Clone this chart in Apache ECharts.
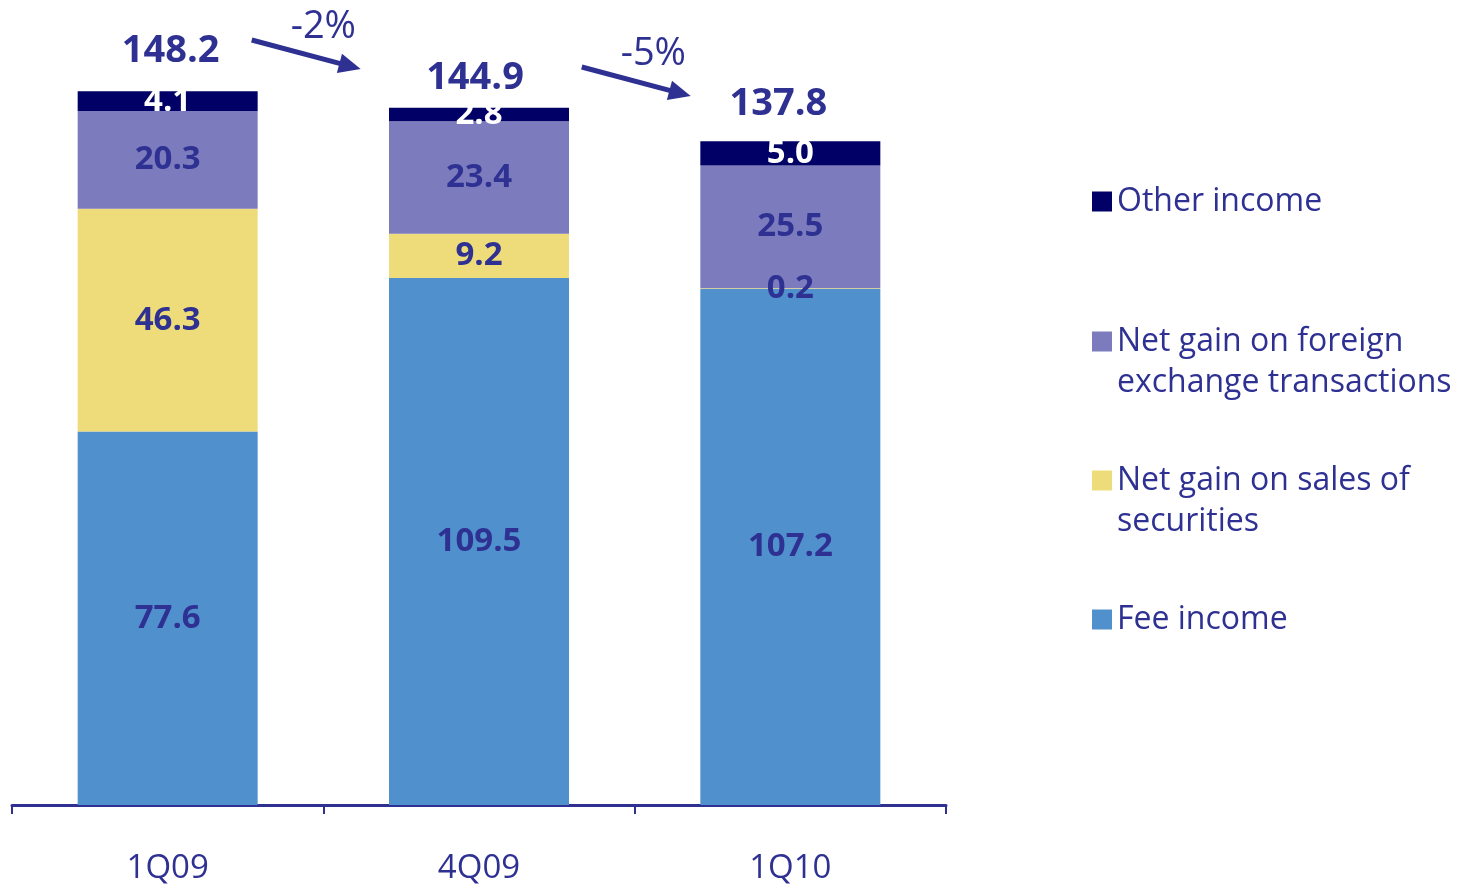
<!DOCTYPE html>
<html><head><meta charset="utf-8">
<script src="https://cdn.jsdelivr.net/npm/echarts@6/dist/echarts.min.js"></script>
<style>html,body{margin:0;padding:0;background:#fff}#c{width:1472px;height:886px}</style>
</head><body><div id="c"></div>
<script>
const categories = ['1Q09', '4Q09', '1Q10'];
const feeIncome = [77.6, 109.5, 107.2];
const securitiesGain = [46.3, 9.2, 0.2];
const fxGain = [20.3, 23.4, 25.5];
const otherIncome = [4.1, 2.8, 5.0];
const totals = [148.2, 144.9, 137.8];
const changes = ['-2%', '-5%'];
const seriesNames = ['Fee income', 'Net gain on sales of securities', 'Net gain on foreign exchange transactions', 'Other income'];

// layout only (pixel offsets of the total labels)
const totalLabelOffsets = [[3, -6], [-4, 6], [-12, -3]];

const TXT = '#2E3192';
const FONT = '"Open Sans", "Noto Sans", sans-serif';
const colors = ['#5090CD', '#EEDC7A', '#7B7BBD', '#000066'];

const chart = echarts.init(document.getElementById('c'));

function barSeries(i, data, labelColor) {
  return {
    name: seriesNames[i], type: 'bar', stack: 'total', data: data,
    barWidth: 180,
    itemStyle: { color: colors[i] },
    label: { show: true, position: 'inside', color: labelColor, fontFamily: FONT,
      fontWeight: 'bold', fontSize: 33, formatter: p => p.value.toFixed(1) },
    emphasis: { disabled: true }
  };
}

function legendFor(name, top) {
  return {
    data: [name], left: 1092, top: top, orient: 'vertical', padding: 0,
    itemWidth: 20, itemHeight: 20, itemGap: 0, icon: 'rect',
    selectedMode: false,
    formatter: n => n === seriesNames[2] ? '\nNet gain on foreign\nexchange transactions'
                 : n === seriesNames[1] ? '\nNet gain on sales of\nsecurities' : n,
    textStyle: { color: TXT, fontFamily: FONT, fontSize: 32, lineHeight: 41 }
  };
}

const option = {
  animation: false,
  grid: { left: 12, right: 526, top: 35, bottom: 81, containLabel: false },
  xAxis: {
    type: 'category', data: categories,
    axisLine: { lineStyle: { color: TXT, width: 3 } },
    axisTick: { show: true, length: 9, lineStyle: { color: TXT, width: 2 }, alignWithLabel: false },
    axisLabel: { color: TXT, fontFamily: FONT, fontSize: 33, margin: 47 }
  },
  yAxis: { type: 'value', min: 0, max: 160, show: false, splitLine: { show: false } },
  legend: [
    legendFor(seriesNames[3], 181),
    legendFor(seriesNames[2], 280),
    legendFor(seriesNames[1], 419),
    legendFor(seriesNames[0], 599)
  ],
  series: [
    barSeries(0, feeIncome, TXT),
    barSeries(1, securitiesGain, TXT),
    barSeries(2, fxGain, TXT),
    barSeries(3, otherIncome, '#FFFFFF'),
    {
      name: 'Total', type: 'line', symbol: 'circle', symbolSize: 0, showSymbol: true, silent: true,
      itemStyle: { color: 'rgba(0,0,0,0)' },
      lineStyle: { width: 0, color: 'rgba(0,0,0,0)' },
      data: totals.map((v, i) => ({ value: v, label: { offset: totalLabelOffsets[i] } })),
      label: { show: true, position: 'top', distance: 16, color: TXT, fontFamily: FONT,
        fontWeight: 'bold', fontSize: 38, formatter: p => p.value.toFixed(1) },
      z: 10
    }
  ]
};
chart.setOption(option);

// change arrows between periods (annotation)
function arrow(x1, y1, x2, y2) {
  const dx = x2 - x1, dy = y2 - y1, L = Math.hypot(dx, dy), ux = dx / L, uy = dy / L;
  const hl = 22, hw = 10;
  const bx = x2 - ux * hl, by = y2 - uy * hl;
  return [
    { type: 'line', shape: { x1: x1, y1: y1, x2: bx + ux * 2, y2: by + uy * 2 }, style: { stroke: TXT, lineWidth: 5 } },
    { type: 'polygon', shape: { points: [[x2, y2], [bx - uy * hw, by + ux * hw], [bx + uy * hw, by - ux * hw]] }, style: { fill: TXT } }
  ];
}
const c0 = chart.convertToPixel({ xAxisIndex: 0 }, 0);
const c1 = chart.convertToPixel({ xAxisIndex: 0 }, 1);
const band = c1 - c0;
const graphics = [];
graphics.push(...arrow(c0 + 0.27 * band, 40, c0 + 0.62 * band, 69));
graphics.push(...arrow(c1 + 0.33 * band, 67, c1 + 0.68 * band, 96));
graphics.push({ type: 'text', style: { text: changes[0], x: c0 + 0.50 * band, y: 27, align: 'center', verticalAlign: 'middle', fill: TXT, font: '38px ' + FONT } });
graphics.push({ type: 'text', style: { text: changes[1], x: c1 + 0.56 * band, y: 54, align: 'center', verticalAlign: 'middle', fill: TXT, font: '38px ' + FONT } });
chart.setOption({ graphic: graphics });
</script>
</body></html>
